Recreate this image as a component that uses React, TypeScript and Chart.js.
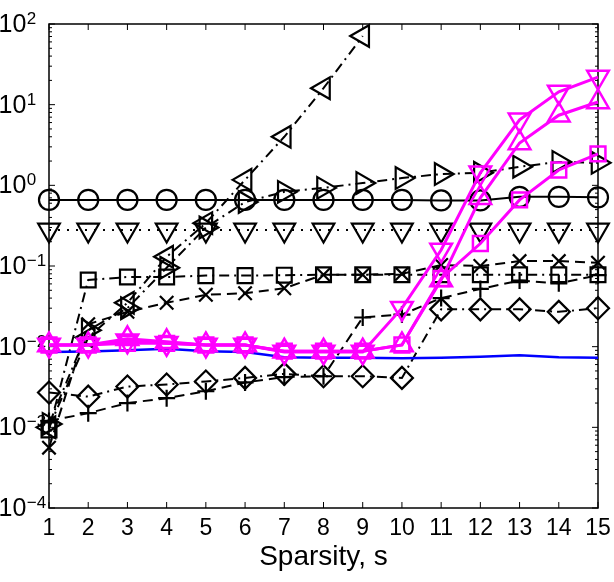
import React, { useEffect, useRef } from "react";
import { Chart, registerables } from "chart.js";

Chart.register(...registerables);

const FONT = '"Liberation Sans", Arial, Helvetica, sans-serif';

const sparsity = [1, 2, 3, 4, 5, 6, 7, 8, 9, 10, 11, 12, 13, 14, 15];
const yDecades = [-4, -3, -2, -1, 0, 1, 2];
const yExpLabels = ["\u22124", "\u22123", "\u22122", "\u22121", "0", "1", "2"];

const magentaDown = [0.0105, 0.0105, 0.0118, 0.011, 0.0105, 0.0105, 0.0086, 0.0086, 0.0086, 0.03, 0.158, 1.43, 6.5, 14.4, 22];
const magentaUp = [0.0105, 0.0105, 0.0125, 0.0115, 0.0105, 0.0105, 0.0088, 0.0088, 0.0088, 0.0105, 0.067, 0.7, 3.35, 7.4, 10.8];
const magentaSquare = [0.0105, 0.0105, 0.011, 0.011, 0.0105, 0.0105, 0.0088, 0.0088, 0.0088, 0.0105, 0.07, 0.19, 0.66, 1.55, 2.45];
const blueLine = [0.0086, 0.0087, 0.009, 0.0094, 0.0088, 0.0086, 0.0074, 0.0073, 0.0073, 0.0072, 0.0073, 0.0075, 0.0078, 0.0074, 0.0073];
const circleSeries = [0.66, 0.66, 0.66, 0.66, 0.66, 0.66, 0.66, 0.66, 0.66, 0.66, 0.65, 0.65, 0.72, 0.72, 0.71];
const downTriSeries = [0.28, 0.28, 0.28, 0.28, 0.28, 0.28, 0.28, 0.28, 0.28, 0.28, 0.28, 0.28, 0.28, 0.28, 0.28];
const leftTriSeries = [0.001, 0.013, 0.035, 0.13, 0.34, 1.17, 4.0, 16, 71, null, null, null, null, null, null];
const rightTriSeries = [0.0011, 0.016, 0.03, 0.095, 0.3, 0.62, 0.83, 0.93, 1.07, 1.23, 1.38, 1.43, 1.7, 1.95, 1.9];
const squareSeries = [0.00093, 0.067, 0.073, 0.073, 0.076, 0.076, 0.077, 0.078, 0.078, 0.078, 0.078, 0.078, 0.078, 0.078, 0.078];
const crossSeries = [0.00056, 0.019, 0.027, 0.035, 0.044, 0.046, 0.053, 0.078, 0.078, 0.08, 0.103, 0.1, 0.115, 0.115, 0.11];
const plusSeries = [0.0012, 0.0015, 0.002, 0.0023, 0.0028, 0.0036, 0.0042, 0.0043, 0.023, 0.025, 0.04, 0.052, 0.066, 0.061, 0.077];
const diamondSeries = [0.0027, 0.0024, 0.0032, 0.0034, 0.0037, 0.0041, 0.0046, 0.0043, 0.0043, 0.0041, 0.029, 0.029, 0.029, 0.027, 0.03];

const DASH_DOT = [10, 5, 2, 5];
const DASHED = [10, 6];
const DOTTED = [2, 7];

function toPoints(values: (number | null)[]) {
  return sparsity.map((s, i) => ({ x: s, y: values[i] }));
}

function series(values: (number | null)[], color: string, style: string, rotation: number, radius: number, dash: number[], lw: number, plw: number) {
  return {
    data: toPoints(values),
    borderColor: color,
    backgroundColor: "rgba(0,0,0,0)",
    borderWidth: lw,
    borderDash: dash,
    pointStyle: style,
    pointRotation: rotation,
    pointRadius: radius,
    pointBorderColor: color,
    pointBackgroundColor: "rgba(0,0,0,0)",
    pointBorderWidth: plw,
    tension: 0,
    fill: false,
    clip: false,
    spanGaps: false,
  };
}

const framePlugin = {
  id: "framePlugin",
  beforeDatasetsDraw(chart: any) {
    const { ctx, chartArea } = chart;
    const { left, right, top, bottom } = chartArea;
    const xs = chart.scales.x;
    const ys = chart.scales.y;
    ctx.save();
    ctx.strokeStyle = "#000";
    ctx.lineWidth = 1.5;
    ctx.strokeRect(left, top, right - left, bottom - top);
    ctx.lineWidth = 1;
    ctx.beginPath();
    for (const s of sparsity) {
      const px = xs.getPixelForValue(s);
      ctx.moveTo(px, bottom);
      ctx.lineTo(px, bottom - 6);
      ctx.moveTo(px, top);
      ctx.lineTo(px, top + 6);
    }
    for (const k of yDecades) {
      const py = ys.getPixelForValue(Math.pow(10, k));
      ctx.moveTo(left, py);
      ctx.lineTo(left + 6, py);
      ctx.moveTo(right, py);
      ctx.lineTo(right - 6, py);
      if (k < 2) {
        for (let m = 2; m <= 9; m++) {
          const pm = ys.getPixelForValue(m * Math.pow(10, k));
          ctx.moveTo(left, pm);
          ctx.lineTo(left + 3, pm);
          ctx.moveTo(right, pm);
          ctx.lineTo(right - 3, pm);
        }
      }
    }
    ctx.stroke();

    ctx.fillStyle = "#000";
    yDecades.forEach((k, i) => {
      const py = ys.getPixelForValue(Math.pow(10, k));
      ctx.font = `25px ${FONT}`;
      ctx.textAlign = "left";
      ctx.textBaseline = "middle";
      ctx.fillText("10", -1.5, py + 1);
      const w = ctx.measureText("10").width;
      ctx.font = `17px ${FONT}`;
      ctx.textBaseline = "alphabetic";
      ctx.fillText(yExpLabels[i], -1.5 + w + 0.5, py);
    });
    ctx.restore();
  },
};

export default function App() {
  const canvasRef = useRef<HTMLCanvasElement | null>(null);

  useEffect(() => {
    const canvas = canvasRef.current;
    if (!canvas) return;
    const magenta = "#ff00ff";
    const black = "#000000";
    const chart = new Chart(canvas, {
      type: "line",
      data: {
        datasets: [
          series(magentaDown, magenta, "triangle", 180, 12.5, [], 3, 2.5),
          series(magentaUp, magenta, "triangle", 0, 12.5, [], 3, 2.5),
          series(magentaSquare, magenta, "rect", 0, 10.5, [], 3, 2.5),
          series(blueLine, "#0000ff", "circle", 0, 0, [], 2.5, 0),
          series(circleSeries, black, "circle", 0, 10, [], 2, 2.2),
          series(downTriSeries, black, "triangle", 180, 12.5, DOTTED, 2, 2.2),
          series(leftTriSeries, black, "triangle", 270, 12.5, DASH_DOT, 2, 2.2),
          series(rightTriSeries, black, "triangle", 90, 12.5, DASH_DOT, 2, 2.2),
          series(squareSeries, black, "rect", 0, 10.5, DASH_DOT, 2, 2.2),
          series(crossSeries, black, "crossRot", 0, 9.5, DASHED, 2, 2.2),
          series(plusSeries, black, "cross", 0, 8.5, DASHED, 2, 2.2),
          series(diamondSeries, black, "rectRot", 0, 11, DASH_DOT, 2, 2.2),
        ] as any,
      },
      options: {
        responsive: false,
        animation: false,
        layout: { padding: { top: 24, right: 16, left: 0, bottom: 0 } },
        plugins: {
          legend: { display: false },
          tooltip: { enabled: false },
        },
        scales: {
          x: {
            type: "linear",
            min: 1,
            max: 15,
            ticks: {
              stepSize: 1,
              color: "#000",
              padding: -1,
              font: { size: 23, family: FONT },
              maxRotation: 0,
              autoSkip: false,
            },
            grid: { display: false },
            border: { display: false },
            title: {
              display: true,
              text: "Sparsity, s",
              color: "#000",
              font: { size: 28, family: FONT },
              padding: { top: 0, bottom: 7.5 },
            },
            afterFit: (s: any) => {
              s.height = 74;
            },
          },
          y: {
            type: "logarithmic",
            min: 1e-4,
            max: 100,
            ticks: { display: false },
            grid: { display: false },
            border: { display: false },
            afterFit: (s: any) => {
              s.width = 49;
            },
          },
        },
      } as any,
      plugins: [framePlugin],
    });
    return () => chart.destroy();
  }, []);

  return (
    <div style={{ position: "absolute", left: 0, top: 0, width: 614, height: 582, background: "#fff" }}>
      <canvas ref={canvasRef} width={614} height={582} style={{ width: 614, height: 582, display: "block" }} />
    </div>
  );
}
